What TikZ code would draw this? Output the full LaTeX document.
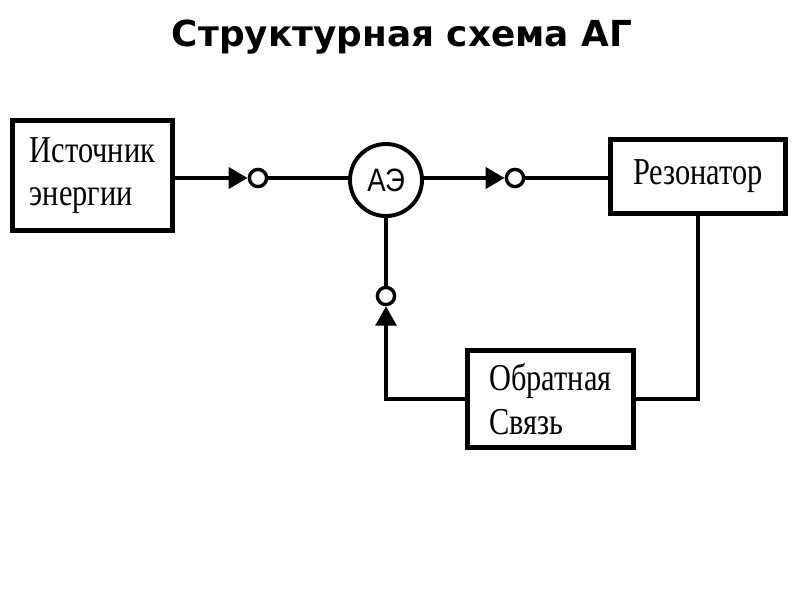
\documentclass[tikz,border=0pt]{standalone}
\usepackage{fontspec}
\setmainfont{Liberation Serif}
\newfontfamily\titlefont{DejaVu Sans}
\newfontfamily\blockfont[FakeStretch=0.8]{Liberation Serif}
\newfontfamily\aefont[FakeStretch=0.85]{Liberation Sans}
\usetikzlibrary{arrows.meta}

\tikzset{
  block/.style={draw, line width=3.5pt, align=left, inner sep=0pt,
    font=\blockfont\fontsize{27}{31}\selectfont},
  contact/.style={draw, circle, line width=2.4pt, minimum size=0.43cm, inner sep=0pt},
  link/.style={line width=3.5pt},
  tip/.style={-{Triangle[length=0.48cm,width=0.52cm]}}
}

\begin{document}
\begin{tikzpicture}[x=0.025cm, y=-0.025cm]
    \useasboundingbox (0,0) rectangle (800,600);

    % title
    \node (title) at (402,37) {\titlefont\bfseries\fontsize{25.5}{28}\selectfont Структурная схема АГ};

    % blocks
    \node[block, minimum width=4cm, minimum height=2.75cm] (src) at (92.5,175.5) {Источник\\энергии};
    \node[draw, circle, line width=2.8pt, minimum size=1.8cm, inner sep=0pt,
          font=\aefont\fontsize{23}{26}\selectfont] (ae) at (386,180) {АЭ};
    \node[block, minimum width=4.375cm, minimum height=1.85cm] (res) at (698,176.5) {Резонатор};
    \node[block, minimum width=4.15cm, minimum height=2.425cm] (fb) at (550.5,399) {Обратная\\Связь};

    % contacts
    \node[contact] (c1) at (258,178) {};
    \node[contact] (c2) at (515,178) {};
    \node[contact] (c3) at (386,296) {};

    % forward path
    \draw[link, tip] (src.east |- c1) -- (c1.west);
    \draw[link] (c1.east) -- (c1.east -| ae.west);
    \draw[link, tip] (ae.east |- c2) -- (c2.west);
    \draw[link] (c2.east) -- (c2.east -| res.west);

    % feedback path
    \coordinate (turn) at (fb.west -| c3);
    \draw[link] (res.south) |- (fb.east);
    \draw[link, line cap=rect] (fb.west) -- (turn);
    \draw[line width=2.2pt, tip] (turn) -- (c3.south);
    \draw[line width=2.2pt] (c3.north) -- (ae.south);
\end{tikzpicture}
\end{document}
